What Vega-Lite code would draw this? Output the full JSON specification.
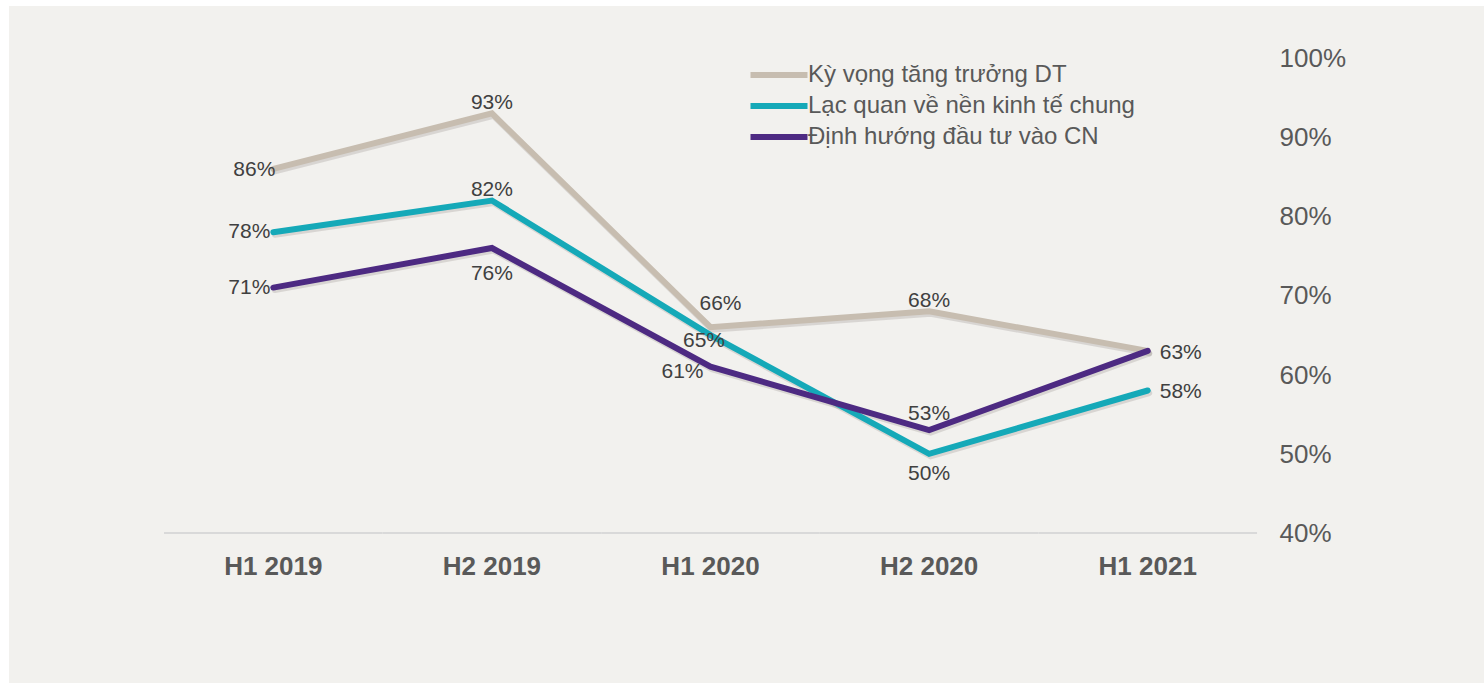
{
  "$schema": "https://vega.github.io/schema/vega-lite/v6.json",
  "width": 1475,
  "height": 677,
  "padding": {"left": 9, "top": 6, "right": 0, "bottom": 0},
  "autosize": {"type": "none"},
  "background": "#ffffff",
  "config": {
    "font": "Liberation Sans",
    "view": {"fill": "#f2f1ee", "stroke": null},
    "text": {"font": "Liberation Sans", "fontSize": 21, "color": "#404040", "baseline": "middle"}
  },
  "data": {
    "values": [
      {"series": "Kỳ vọng tăng trưởng DT", "period": "H1 2019", "value": 0.86},
      {"series": "Kỳ vọng tăng trưởng DT", "period": "H2 2019", "value": 0.93},
      {"series": "Kỳ vọng tăng trưởng DT", "period": "H1 2020", "value": 0.66},
      {"series": "Kỳ vọng tăng trưởng DT", "period": "H2 2020", "value": 0.68},
      {"series": "Kỳ vọng tăng trưởng DT", "period": "H1 2021", "value": 0.63},
      {"series": "Lạc quan về nền kinh tế chung", "period": "H1 2019", "value": 0.78},
      {"series": "Lạc quan về nền kinh tế chung", "period": "H2 2019", "value": 0.82},
      {"series": "Lạc quan về nền kinh tế chung", "period": "H1 2020", "value": 0.65},
      {"series": "Lạc quan về nền kinh tế chung", "period": "H2 2020", "value": 0.50},
      {"series": "Lạc quan về nền kinh tế chung", "period": "H1 2021", "value": 0.58},
      {"series": "Định hướng đầu tư vào CN", "period": "H1 2019", "value": 0.71},
      {"series": "Định hướng đầu tư vào CN", "period": "H2 2019", "value": 0.76},
      {"series": "Định hướng đầu tư vào CN", "period": "H1 2020", "value": 0.61},
      {"series": "Định hướng đầu tư vào CN", "period": "H2 2020", "value": 0.53},
      {"series": "Định hướng đầu tư vào CN", "period": "H1 2021", "value": 0.63}
    ]
  },
  "encoding": {
    "x": {
      "field": "period",
      "type": "ordinal",
      "sort": ["H1 2019", "H2 2019", "H1 2020", "H2 2020", "H1 2021"],
      "scale": {"type": "band", "paddingInner": 0, "paddingOuter": 0.8737, "align": 0.4058},
      "axis": {
        "orient": "bottom",
        "offset": -109,
        "title": null,
        "domain": false,
        "ticks": false,
        "tickSize": 0,
        "labelPadding": 0,
        "labelBaseline": "alphabetic",
        "labelAngle": 0,
        "labelFontSize": 26,
        "labelFontWeight": "bold",
        "labelColor": "#595959",
        "labelFont": "Liberation Sans"
      }
    },
    "y": {
      "field": "value",
      "type": "quantitative",
      "scale": {"domain": [0.2105, 1.0657], "nice": false, "zero": false},
      "axis": {
        "orient": "right",
        "offset": -205,
        "title": null,
        "values": [0.4, 0.5, 0.6, 0.7, 0.8, 0.9, 1.0],
        "format": ".0%",
        "domain": false,
        "ticks": false,
        "tickSize": 0,
        "grid": false,
        "labelPadding": 0,
        "labelAlign": "left",
        "labelBaseline": "middle",
        "labelOffset": 0.5,
        "labelFontSize": 26,
        "labelColor": "#595959",
        "labelFont": "Liberation Sans"
      }
    }
  },
  "layer": [
    {
      "transform": [{"filter": "datum.series == 'Kỳ vọng tăng trưởng DT'"}],
      "mark": {"type": "rect", "fillOpacity": 0, "stroke": "#d9d9d9", "strokeWidth": 2},
      "encoding": {"y": {"datum": 0.4}, "y2": {"datum": 0.4}}
    },
    {
      "mark": {"type": "line", "strokeWidth": 6, "strokeCap": "round", "strokeJoin": "miter", "color": "#8a857e", "opacity": 0.25, "xOffset": 1.5, "yOffset": 2.5},
      "encoding": {"detail": {"field": "series"}}
    },
    {
      "mark": {"type": "line", "strokeWidth": 6, "strokeCap": "round", "strokeJoin": "miter"},
      "encoding": {
        "color": {
          "field": "series",
          "type": "nominal",
          "sort": ["Kỳ vọng tăng trưởng DT", "Lạc quan về nền kinh tế chung", "Định hướng đầu tư vào CN"],
          "scale": {
            "domain": ["Kỳ vọng tăng trưởng DT", "Lạc quan về nền kinh tế chung", "Định hướng đầu tư vào CN"],
            "range": ["#c7bdb0", "#15a9b8", "#4d2a82"]
          },
          "legend": {
            "orient": "none",
            "legendX": 757,
            "legendY": 56,
            "title": null,
            "padding": 0,
            "symbolType": "M-2.85,0L2.85,0",
            "symbolStrokeWidth": 6,
            "symbolSize": 400,
            "rowPadding": 6,
            "labelOffset": 16,
            "labelFontSize": 24,
            "labelColor": "#595959",
            "labelFont": "Liberation Sans",
            "labelLimit": 500
          }
        }
      }
    },
    {
      "transform": [{"filter": "datum.period == 'H1 2019' && datum.series == 'Kỳ vọng tăng trưởng DT'"}],
      "mark": {"type": "text", "align": "right", "dx": 2, "dy": 1},
      "encoding": {"text": {"field": "value", "format": ".0%"}}
    },
    {
      "transform": [{"filter": "datum.period == 'H1 2019' && datum.series != 'Kỳ vọng tăng trưởng DT'"}],
      "mark": {"type": "text", "align": "right", "dx": -3, "dy": 0},
      "encoding": {"text": {"field": "value", "format": ".0%"}}
    },
    {
      "transform": [{"filter": "(datum.period == 'H2 2019' && datum.series != 'Định hướng đầu tư vào CN') || (datum.period == 'H2 2020' && datum.series == 'Kỳ vọng tăng trưởng DT')"}],
      "mark": {"type": "text", "align": "center", "dy": -10.5},
      "encoding": {"text": {"field": "value", "format": ".0%"}}
    },
    {
      "transform": [{"filter": "datum.period == 'H2 2020' && datum.series == 'Định hướng đầu tư vào CN'"}],
      "mark": {"type": "text", "align": "center", "dy": -16.3},
      "encoding": {"text": {"field": "value", "format": ".0%"}}
    },
    {
      "transform": [{"filter": "datum.period == 'H2 2019' && datum.series == 'Định hướng đầu tư vào CN'"}],
      "mark": {"type": "text", "align": "center", "dy": 25.7},
      "encoding": {"text": {"field": "value", "format": ".0%"}}
    },
    {
      "transform": [{"filter": "datum.period == 'H2 2020' && datum.series == 'Lạc quan về nền kinh tế chung'"}],
      "mark": {"type": "text", "align": "center", "dy": 20},
      "encoding": {"text": {"field": "value", "format": ".0%"}}
    },
    {
      "transform": [{"filter": "datum.period == 'H1 2021' && datum.series != 'Kỳ vọng tăng trưởng DT'"}],
      "mark": {"type": "text", "align": "left", "dx": 12, "dy": 2},
      "encoding": {"text": {"field": "value", "format": ".0%"}}
    },
    {
      "transform": [{"filter": "datum.period == 'H1 2020' && datum.series == 'Kỳ vọng tăng trưởng DT'"}],
      "mark": {"type": "text", "align": "center", "dx": 10, "dy": -23.3},
      "encoding": {"text": {"field": "value", "format": ".0%"}}
    },
    {
      "transform": [{"filter": "datum.period == 'H1 2020' && datum.series == 'Lạc quan về nền kinh tế chung'"}],
      "mark": {"type": "text", "align": "center", "dx": -6.5, "dy": 5.7},
      "encoding": {"text": {"field": "value", "format": ".0%"}}
    },
    {
      "transform": [{"filter": "datum.period == 'H1 2020' && datum.series == 'Định hướng đầu tư vào CN'"}],
      "mark": {"type": "text", "align": "center", "dx": -28, "dy": 5.2},
      "encoding": {"text": {"field": "value", "format": ".0%"}}
    }
  ]
}
